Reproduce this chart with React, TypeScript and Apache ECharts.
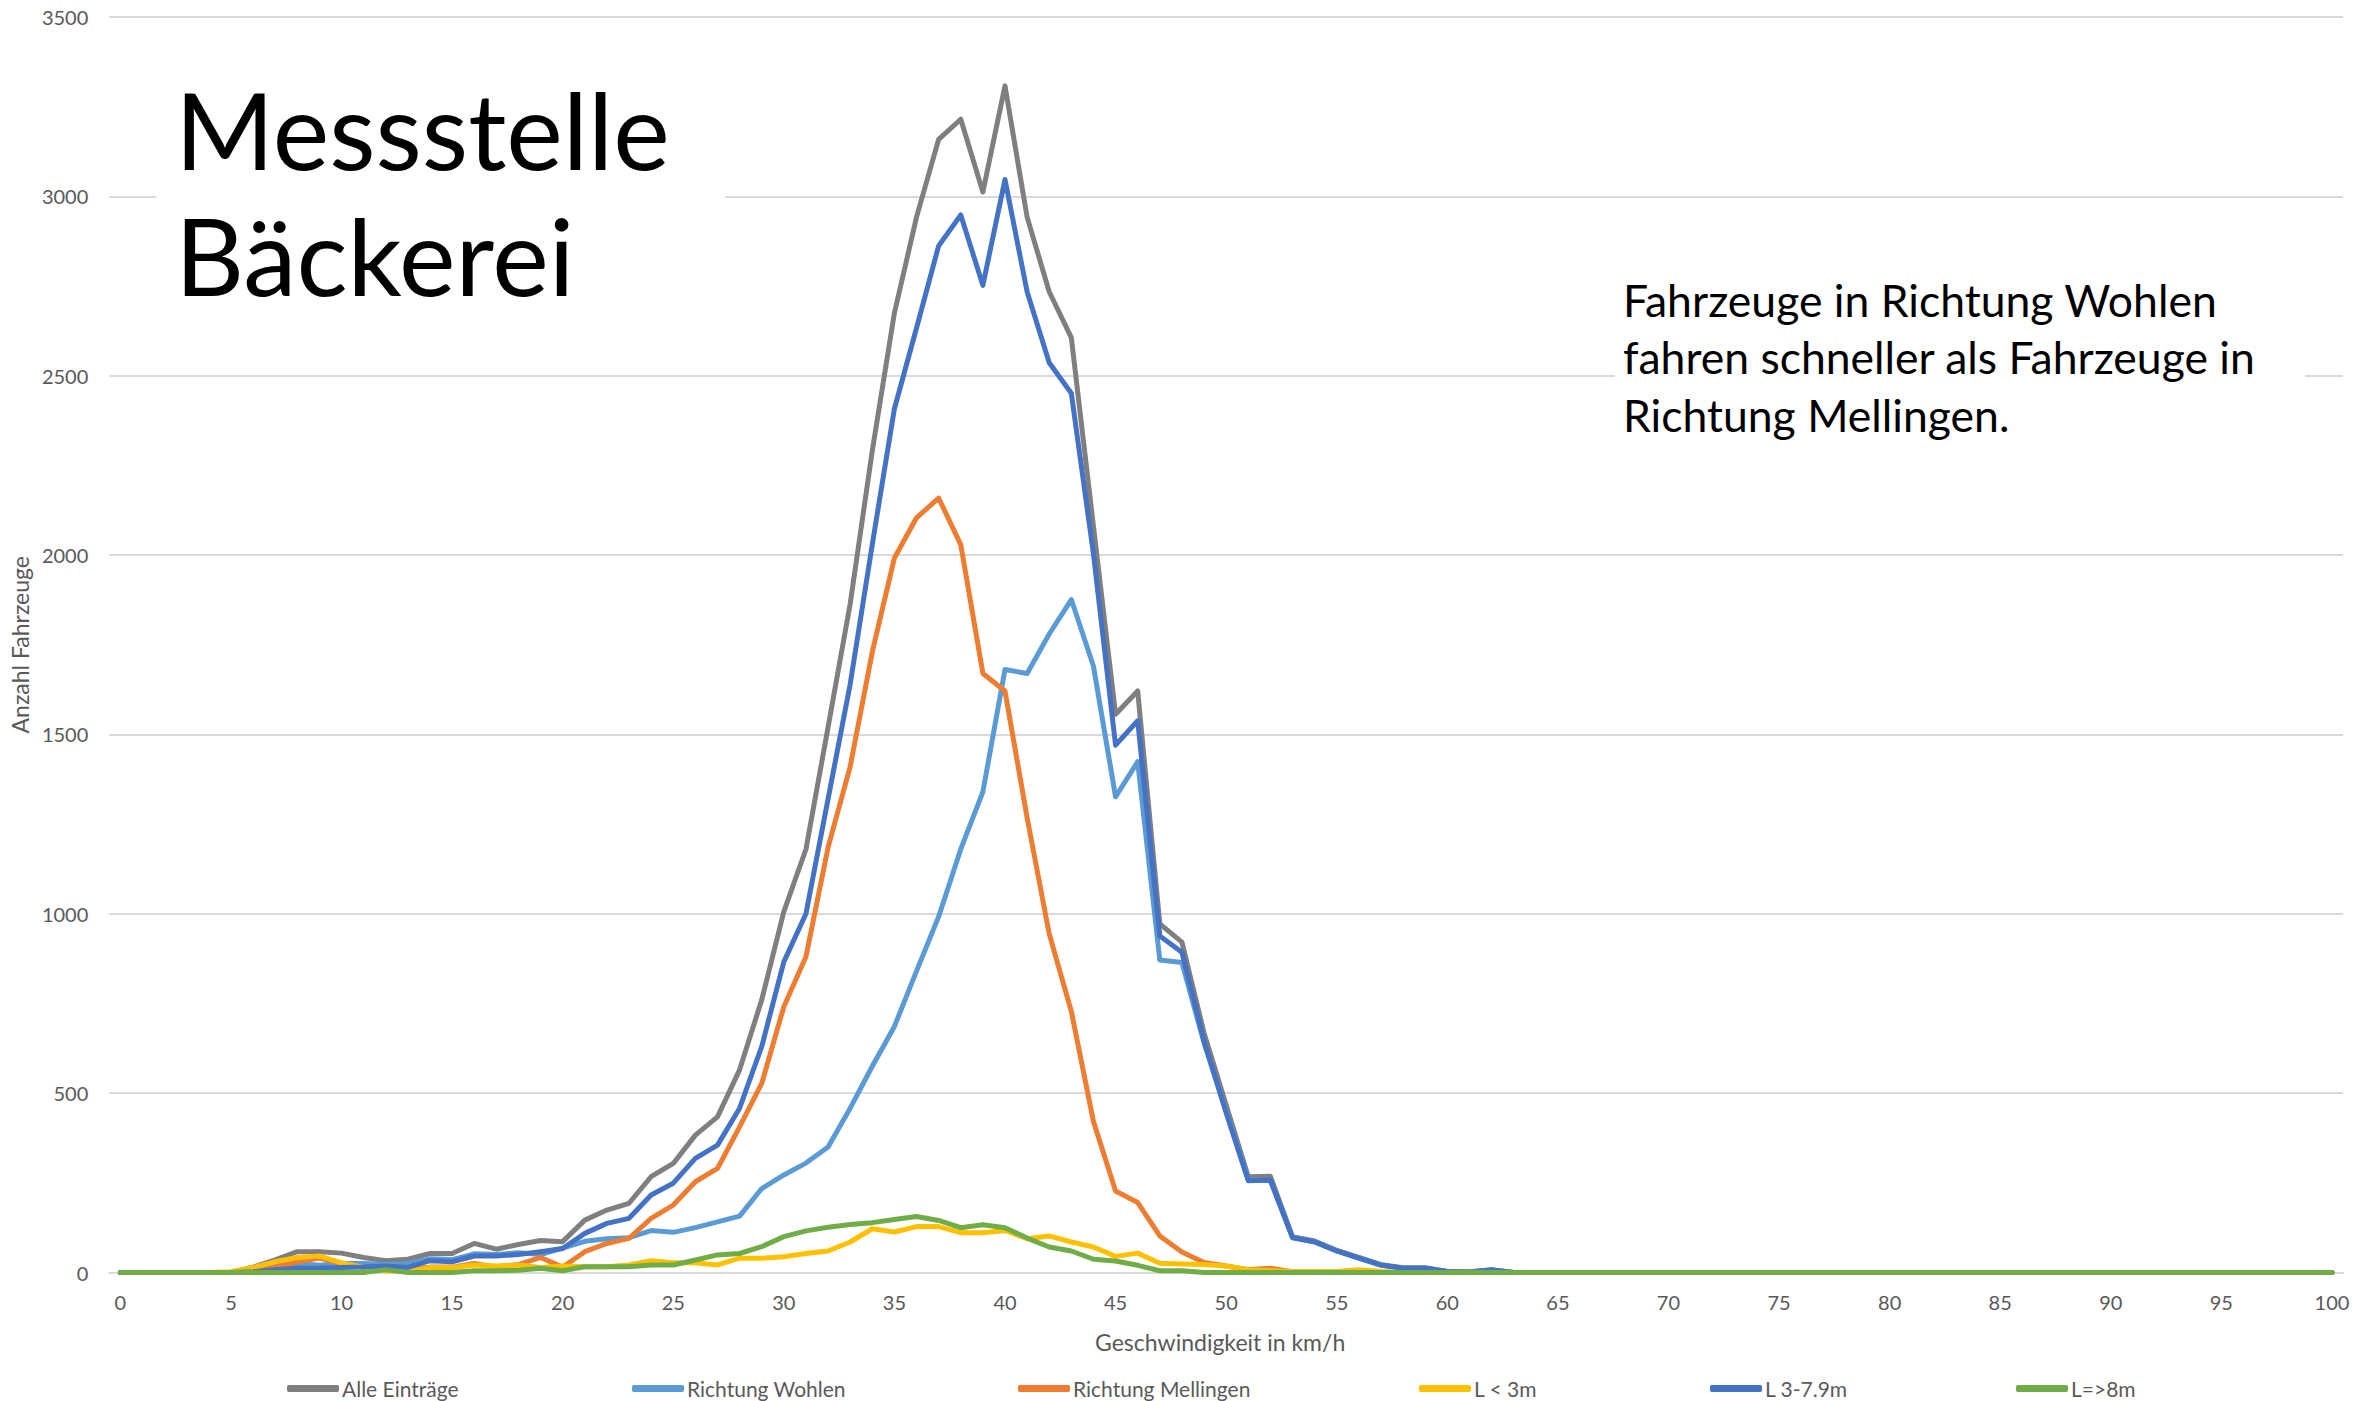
import React, { useEffect, useRef } from "react";
import * as echarts from "echarts";

const speeds: string[] = Array.from({ length: 101 }, (_, i) => String(i));

const seriesNames = ["Alle Einträge", "Richtung Wohlen", "Richtung Mellingen", "L < 3m", "L 3-7.9m", "L=>8m"];
const seriesColors = ["#7F7F7F", "#5B9BD5", "#ED7D31", "#FFC000", "#4472C4", "#70AD47"];

const alleEintraege = [
  0, 0, 0, 0, 0, 0, 15, 35, 58, 58,
  54, 42, 33, 37, 53, 53, 81, 65, 78, 89,
  86, 146, 174, 193, 267, 304, 383, 434, 565, 760,
  1006, 1180, 1520, 1864, 2291, 2675, 2942, 3159, 3215, 3012,
  3308, 2942, 2734, 2606, 2080, 1556, 1621, 972, 921, 668,
  467, 267, 268, 100, 88, 62, 42, 22, 13, 13,
  3, 2, 8, 0, 0, 0, 0, 0, 0, 0,
  0, 0, 0, 0, 0, 0, 0, 0, 0, 0,
  0, 0, 0, 0, 0, 0, 0, 0, 0, 0,
  0, 0, 0, 0, 0, 0, 0, 0, 0, 0,
  0,
];

const richtungWohlen = [
  0, 0, 0, 0, 0, 0, 8, 18, 25, 20,
  25, 25, 22, 25, 38, 36, 52, 50, 55, 50,
  68, 87, 94, 97, 117, 112, 125, 141, 157, 234,
  272, 305, 350, 458, 575, 686, 840, 992, 1180, 1340,
  1681, 1670, 1780, 1876, 1690, 1326, 1424, 871, 864, 640,
  450, 259, 256, 98, 86, 60, 40, 20, 12, 12,
  2, 1, 7, 0, 0, 0, 0, 0, 0, 0,
  0, 0, 0, 0, 0, 0, 0, 0, 0, 0,
  0, 0, 0, 0, 0, 0, 0, 0, 0, 0,
  0, 0, 0, 0, 0, 0, 0, 0, 0, 0,
  0,
];

const richtungMellingen = [
  0, 0, 0, 0, 0, 0, 5, 15, 30, 40,
  25, 15, 10, 10, 15, 15, 25, 15, 22, 42,
  15, 58, 81, 95, 151, 188, 253, 290, 406, 527,
  741, 880, 1185, 1410, 1730, 1992, 2104, 2159, 2029, 1670,
  1621, 1268, 944, 728, 421, 227, 195, 102, 57, 28,
  18, 8, 12, 2, 0, 0, 0, 0, 0, 0,
  0, 0, 0, 0, 0, 0, 0, 0, 0, 0,
  0, 0, 0, 0, 0, 0, 0, 0, 0, 0,
  0, 0, 0, 0, 0, 0, 0, 0, 0, 0,
  0, 0, 0, 0, 0, 0, 0, 0, 0, 0,
  0,
];

const lUnter3m = [
  0, 0, 0, 0, 0, 2, 14, 30, 42, 46,
  27, 14, 5, 3, 14, 14, 21, 18, 21, 14,
  18, 16, 16, 21, 33, 27, 27, 21, 40, 40,
  44, 53, 60, 85, 122, 113, 128, 128, 111, 111,
  117, 94, 102, 85, 71, 45, 54, 26, 24, 22,
  18, 8, 5, 3, 3, 3, 8, 3, 0, 0,
  0, 0, 0, 0, 0, 0, 0, 0, 0, 0,
  0, 0, 0, 0, 0, 0, 0, 0, 0, 0,
  0, 0, 0, 0, 0, 0, 0, 0, 0, 0,
  0, 0, 0, 0, 0, 0, 0, 0, 0, 0,
  0,
];

const l3bis79m = [
  0, 0, 0, 0, 0, 0, 2, 8, 12, 12,
  14, 15, 18, 14, 33, 30, 46, 46, 50, 58,
  67, 109, 137, 151, 216, 249, 318, 355, 458, 630,
  866, 1000, 1320, 1640, 2030, 2408, 2633, 2862, 2948, 2752,
  3047, 2734, 2536, 2451, 2003, 1470, 1538, 938, 893, 645,
  445, 256, 258, 97, 85, 60, 40, 21, 12, 12,
  3, 1, 7, 0, 0, 0, 0, 0, 0, 0,
  0, 0, 0, 0, 0, 0, 0, 0, 0, 0,
  0, 0, 0, 0, 0, 0, 0, 0, 0, 0,
  0, 0, 0, 0, 0, 0, 0, 0, 0, 0,
  0,
];

const lAb8m = [
  0, 0, 0, 0, 0, 0, 0, 0, 0, 0,
  0, 0, 8, 0, 0, 0, 5, 5, 6, 12,
  5, 16, 16, 16, 21, 21, 35, 49, 53, 72,
  100, 116, 126, 134, 139, 148, 156, 145, 125, 133,
  125, 96, 71, 60, 37, 32, 20, 5, 5, 0,
  0, 0, 0, 0, 0, 0, 0, 0, 0, 0,
  0, 0, 0, 0, 0, 0, 0, 0, 0, 0,
  0, 0, 0, 0, 0, 0, 0, 0, 0, 0,
  0, 0, 0, 0, 0, 0, 0, 0, 0, 0,
  0, 0, 0, 0, 0, 0, 0, 0, 0, 0,
  0,
];

const seriesData = [alleEintraege, richtungWohlen, richtungMellingen, lUnter3m, l3bis79m, lAb8m];
const legendLefts = [282, 627, 1013, 1414, 1705, 2011];

const titleLines = ["Messstelle", "Bäckerei"];
const noteLines = [
  "Fahrzeuge in Richtung Wohlen",
  "fahren schneller als Fahrzeuge in",
  "Richtung Mellingen.",
];

const FONT = "Lato, 'Noto Sans', sans-serif";
const AXIS_GREY = "#595959";

export default function App() {
  const ref = useRef<HTMLDivElement>(null);

  useEffect(() => {
    if (!ref.current) return;
    const chart = echarts.init(ref.current, undefined, { renderer: "svg" });

    const option: any = {
      animation: false,
      backgroundColor: "#ffffff",
      textStyle: { fontFamily: FONT },
      grid: { left: 106, right: 33, top: 17, bottom: 128.5, containLabel: false },
      xAxis: {
        type: "category",
        boundaryGap: true,
        data: speeds,
        name: "Geschwindigkeit in km/h",
        nameLocation: "middle",
        nameGap: 58,
        nameTextStyle: { color: AXIS_GREY, fontSize: 23, fontFamily: FONT, padding: [0, 12, 0, 0] },
        axisLine: { show: true, lineStyle: { color: "#D9D9D9", width: 2 } },
        axisTick: { show: false },
        axisLabel: { interval: 4, color: AXIS_GREY, fontSize: 20, fontFamily: FONT, margin: 19 },
        splitLine: { show: false },
      },
      yAxis: {
        type: "value",
        min: 0,
        max: 3500,
        interval: 500,
        name: "Anzahl Fahrzeuge",
        nameLocation: "middle",
        nameRotate: 90,
        nameGap: 76,
        nameTextStyle: { color: AXIS_GREY, fontSize: 23, fontFamily: FONT },
        axisLine: { show: false },
        axisTick: { show: false },
        axisLabel: {
          color: AXIS_GREY, fontSize: 20, fontFamily: FONT, margin: 21,
          formatter: (v: number) => String(v),
        },
        splitLine: { show: true, lineStyle: { color: "#D9D9D9", width: 2 } },
      },
      legend: seriesNames.map((n, i) => ({
        data: [n],
        left: legendLefts[i],
        top: 1373,
        icon: "roundRect",
        itemWidth: 52,
        itemHeight: 7,
        selectedMode: false,
        textStyle: { color: AXIS_GREY, fontSize: 21, fontFamily: FONT, padding: [0, 0, 0, -2] },
      })),
      series: seriesNames.map((n, i) => ({
        name: n,
        type: "line",
        data: seriesData[i],
        symbol: "none",
        color: seriesColors[i],
        lineStyle: { width: 5, color: seriesColors[i], cap: "round", join: "round" },
        emphasis: { disabled: true },
      })),
      graphic: [
        { type: "rect", z: 10, shape: { x: 156, y: 60, width: 569, height: 270 }, style: { fill: "#ffffff" } },
        {
          type: "text", z: 11, x: 175, y: 128,
          style: { text: titleLines[0], fontSize: 107, fontWeight: "normal", fontFamily: FONT, fill: "#000000", verticalAlign: "middle", align: "left" },
        },
        {
          type: "text", z: 11, x: 175, y: 254,
          style: { text: titleLines[1], fontSize: 107, fontWeight: "normal", fontFamily: FONT, fill: "#000000", verticalAlign: "middle", align: "left" },
        },
        { type: "rect", z: 10, shape: { x: 1615, y: 262, width: 690, height: 200 }, style: { fill: "#ffffff" } },
        ...noteLines.map((t, i) => ({
          type: "text", z: 11, x: 1623, y: 299 + i * 57.5,
          style: { text: t, fontSize: 44.5, fontFamily: FONT, fill: "#000000", verticalAlign: "middle", align: "left" },
        })),
      ],
    };

    chart.setOption(option);
    return () => chart.dispose();
  }, []);

  return (
    <div
      ref={ref}
      style={{ position: "fixed", left: 0, top: 0, width: 2376, height: 1401, background: "#fff" }}
    />
  );
}
